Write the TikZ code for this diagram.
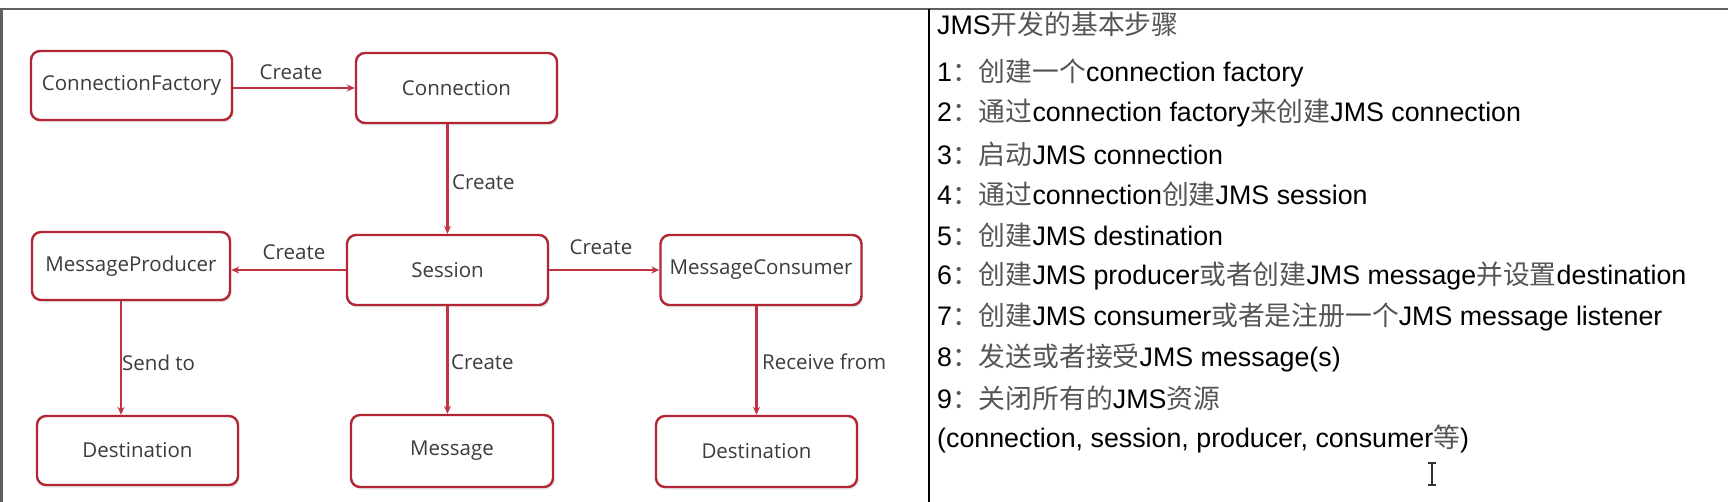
\documentclass[tikz,border=0pt]{standalone}
\usepackage{fontspec}
\setmainfont{Liberation Sans}
\newfontfamily\diagfont{Open Sans}
\newfontfamily\cjk{Noto Sans CJK SC}
\usetikzlibrary{arrows.meta,shadows,calc}
\definecolor{linered}{RGB}{192,52,66}
\definecolor{boxred}{RGB}{178,38,52}
\definecolor{txtgray}{RGB}{60,60,60}
\definecolor{zhgray}{RGB}{85,85,85}
\definecolor{framegray}{RGB}{95,95,95}
\newcommand\zh[1]{{\cjk\color{zhgray}#1}}
\tikzset{
  jbox/.style={draw=boxred, line width=2.4pt, rounded corners=9pt, fill=white,
    minimum width=201pt, minimum height=70pt, inner sep=0pt,
    font=\diagfont\fontsize{20.5}{24}\selectfont, text=txtgray,
    drop shadow={opacity=0.18, shadow xshift=1.5pt, shadow yshift=-2.5pt}},
  arr/.style={draw=linered, line width=2.2pt, -{Stealth[length=8pt,width=7pt]}},
  elab/.style={font=\diagfont\fontsize{20.5}{24}\selectfont, text=txtgray, inner sep=0pt},
  stepline/.style={anchor=west, inner sep=0pt, font=\fontsize{26.8}{30}\selectfont, text=black},
}
\begin{document}
\begin{tikzpicture}[x=1pt,y=-1pt]
\useasboundingbox (0,0) rectangle (1728,502);
% frame
\draw[framegray, line width=2.6pt] (0,9) -- (1728,9);
\draw[framegray, line width=2.6pt] (1.3,9) -- (1.3,502);
\draw[black, line width=1.5pt] (929,9) -- (929,502);
% boxes
\node[jbox, minimum height=69pt] (cf) at (131.5,85.5) {ConnectionFactory};
\node[jbox] (conn) at (456.5,88) {Connection};
\node[jbox, minimum width=198pt, minimum height=68pt] (prod) at (131,266) {MessageProducer};
\node[jbox] (sess) at (447.5,270) {Session};
\node[jbox] (cons) at (761,270) {MessageConsumer};
\node[jbox, minimum height=69pt] (dest1) at (137.5,450.5) {Destination};
\node[jbox, minimum width=202pt, minimum height=72pt] (msg) at (452,451) {Message};
\node[jbox, minimum height=71pt] (dest2) at (756.5,451.5) {Destination};
% connectors
\draw[arr] (cf.east |- conn.west) -- (conn.west);
\draw[arr] (sess.north |- conn.south) -- (sess.north);
\draw[arr] (sess.west) -- (prod.east |- sess.west);
\draw[arr] (sess.east) -- (cons.west);
\draw[arr] ([xshift=-10pt]prod.south) -- ([xshift=-10pt]prod.south |- dest1.north);
\draw[arr] (sess.south) -- (sess.south |- msg.north);
\draw[arr] (dest2.north |- cons.south) -- (dest2.north);
% connector labels
\node[elab] (l1) at (291,72) {Create};
\node[elab, anchor=west] (l2) at (452,182) {Create};
\node[elab] (l3) at (294,252) {Create};
\node[elab] (l4) at (601,247) {Create};
\node[elab, anchor=west] (l5) at (122,363) {Send to};
\node[elab, anchor=west] (l6) at (451,362) {Create};
\node[elab, anchor=west] (l7) at (762,362) {Receive from};
% right panel
\node[stepline] (t0) at (937,24.5) {JMS\zh{开发的基本步骤}};
\node[stepline] (t1) at (937,72.7) {1\zh{：创建一个}connection factory};
\node[stepline] (t2) at (937,113.4) {2\zh{：通过}connection factory\zh{来创建}JMS connection};
\node[stepline] (t3) at (937,154.1) {3\zh{：启动}JMS connection};
\node[stepline] (t4) at (937,194.8) {4\zh{：通过}connection\zh{创建}JMS session};
\node[stepline] (t5) at (937,235.5) {5\zh{：创建}JMS destination};
\node[stepline] (t6) at (937,276.2) {6\zh{：创建}JMS producer\zh{或者创建}JMS message\zh{并设置}destination};
\node[stepline] (t7) at (937,316.9) {7\zh{：创建}JMS consumer\zh{或者是注册一个}JMS message listener};
\node[stepline] (t8) at (937,357.6) {8\zh{：发送或者接受}JMS message(s)};
\node[stepline] (t9) at (937,398.3) {9\zh{：关闭所有的}JMS\zh{资源}};
\node[stepline] (t10) at (937,439) {(connection, session, producer, consumer\zh{等})};
% text cursor (I-beam)
\draw[black!80, line width=1.3pt] (1432,463) -- (1432,485);
\draw[black!80, line width=1.1pt] (1428,463) -- (1436,463) (1428,485) -- (1436,485);
\end{tikzpicture}
\end{document}
